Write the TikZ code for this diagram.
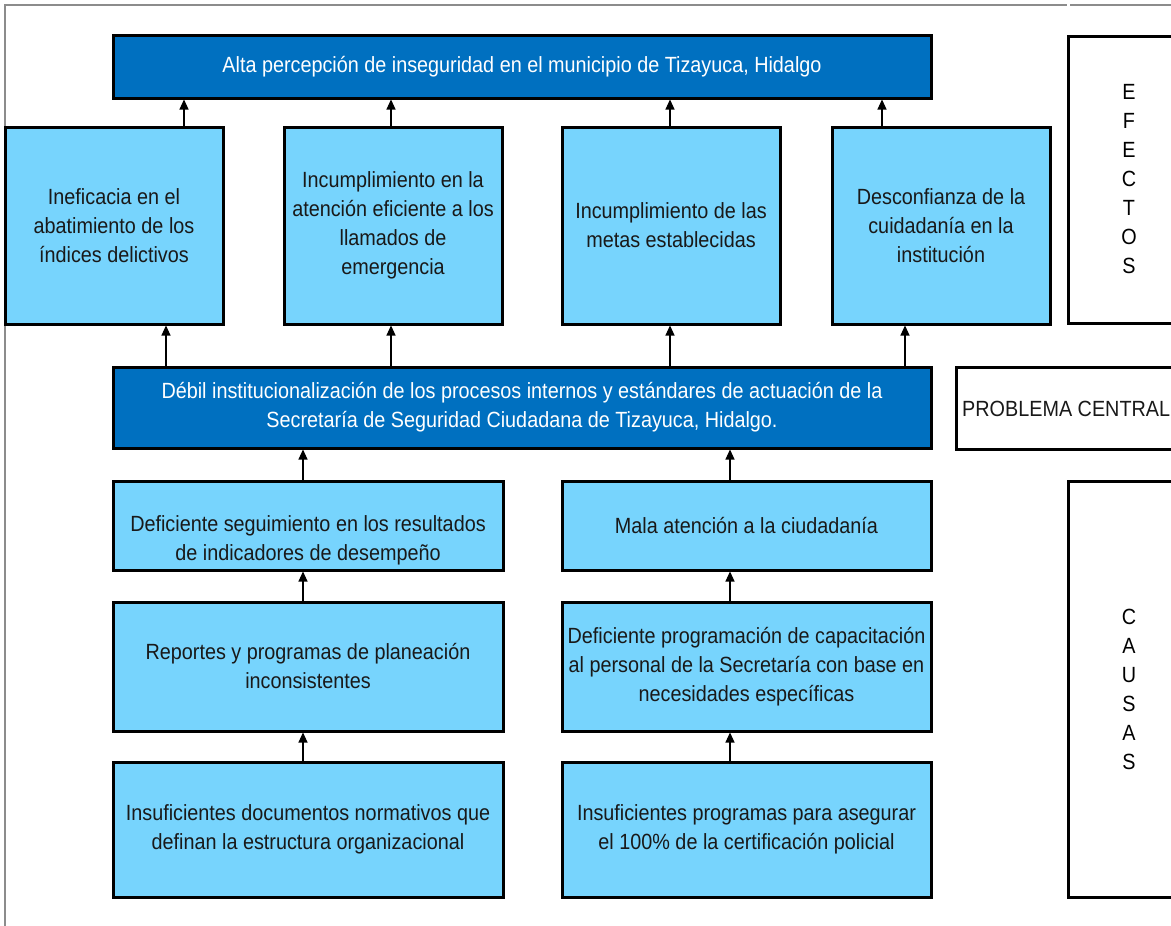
\documentclass[tikz,border=0pt]{standalone}
\usepackage{fontspec}
\setmainfont{Liberation Sans}[FakeStretch=0.9]
\usetikzlibrary{arrows.meta}
\definecolor{lightbox}{HTML}{77D4FD}
\definecolor{darkbox}{HTML}{0070C0}
\definecolor{frame}{HTML}{8C8C8C}
\begin{document}
\begin{tikzpicture}[x=1pt,y=-1pt,
  base/.style={draw=black, line width=3pt, rectangle, inner sep=0pt, align=center,
    font=\fontsize{22}{29}\selectfont},
  lb/.style={base, fill=lightbox, text=black!90},
  db/.style={base, fill=darkbox, text=white},
  wb/.style={base, fill=white, text=black},
  txt/.style={align=center, inner sep=0pt, font=\fontsize{22}{29}\selectfont, text=black!90},
  arr/.style={line width=1.1pt, -{Triangle[length=10pt,width=9pt]}},
  frameline/.style={draw=frame, line width=1.2pt}
]
\useasboundingbox (0,0) rectangle (1171,926);
\fill[white] (0,0) rectangle (1171,926);
% outer frame
\coordinate (f1) at (5,926);
\coordinate (f2) at (5,5);
\coordinate (f3) at (1067,5);
\coordinate (f4) at (1070,5);
\coordinate (f5) at (1171,5);
\draw[frameline] (f1) -- (f2) -- (f3);
\draw[frameline] (f4) -- (f5);

% top effect
\node[db, minimum width=818pt, minimum height=63pt] (top) at (522,66.5)
  {Alta percepción de inseguridad en el municipio de Tizayuca, Hidalgo};

% effects
\node[lb, minimum width=218pt, minimum height=197pt] (e1) at (114,225.5)
  {Ineficacia en el\\abatimiento de los\\índices delictivos};
\node[lb, minimum width=218pt, minimum height=197pt] (e2) at (393,225.5)
  {Incumplimiento en la\\atención eficiente a los\\llamados de\\emergencia};
\node[lb, minimum width=218pt, minimum height=197pt] (e3) at (671,225.5)
  {Incumplimiento de las\\metas establecidas};
\node[lb, minimum width=218pt, minimum height=197pt] (e4) at (941,225.5)
  {Desconfianza de la\\cuidadanía en la\\institución};

% central problem
\node[db, minimum width=818pt, minimum height=81pt] (cen) at (522,407.5)
  {Débil institucionalización de los procesos internos y estándares de actuación de la\\Secretaría de Seguridad Ciudadana de Tizayuca, Hidalgo.};

% causes left
\node[lb, minimum width=390pt, minimum height=89pt] (la) at (308,525.5) {};
\node[txt] (lat) at (308,540)
  {Deficiente seguimiento en los resultados\\de indicadores de desempeño};
\node[lb, minimum width=390pt, minimum height=129pt] (lbx) at (308,666.5)
  {Reportes y programas de planeación\\inconsistentes};
\node[lb, minimum width=390pt, minimum height=135pt] (lc) at (308,829.5)
  {Insuficientes documentos normativos que\\definan la estructura organizacional};

% causes right
\node[lb, minimum width=369pt, minimum height=89pt] (ra) at (746.5,525.5)
  {Mala atención a la ciudadanía};
\node[lb, minimum width=369pt, minimum height=129pt] (rb) at (746.5,666.5)
  {Deficiente programación de capacitación\\al personal de la Secretaría con base en\\necesidades específicas};
\node[lb, minimum width=369pt, minimum height=135pt] (rc) at (746.5,829.5)
  {Insuficientes programas para asegurar\\el 100\% de la certificación policial};

% side labels
\node[wb, minimum width=122pt, minimum height=287pt] (ef) at (1129,179.5)
  {E\\F\\E\\C\\T\\O\\S};
\node[wb, minimum width=235pt, minimum height=82pt, anchor=west] (pc) at (955,408) {};
\node[txt, anchor=west] (pct) at (962,409) {PROBLEMA CENTRAL};
\node[wb, minimum width=122pt, minimum height=416pt] (ca) at (1129,689)
  {C\\A\\U\\S\\A\\S};

% arrows effects -> top
\draw[arr] (e1.north -| 184,0) -- (top.south -| 184,0);
\draw[arr] (e2.north -| 391,0) -- (top.south -| 391,0);
\draw[arr] (e3.north -| 670,0) -- (top.south -| 670,0);
\draw[arr] (e4.north -| 882,0) -- (top.south -| 882,0);

% arrows central -> effects
\draw[arr] (cen.north -| 166,0) -- (e1.south -| 166,0);
\draw[arr] (cen.north -| 391,0) -- (e2.south -| 391,0);
\draw[arr] (cen.north -| 670,0) -- (e3.south -| 670,0);
\draw[arr] (cen.north -| 905,0) -- (e4.south -| 905,0);

% arrows causes
\draw[arr] (la.north -| 303,0) -- (cen.south -| 303,0);
\draw[arr] (lbx.north -| 303,0) -- (la.south -| 303,0);
\draw[arr] (lc.north -| 303,0) -- (lbx.south -| 303,0);
\draw[arr] (ra.north -| 730,0) -- (cen.south -| 730,0);
\draw[arr] (rb.north -| 730,0) -- (ra.south -| 730,0);
\draw[arr] (rc.north -| 730,0) -- (rb.south -| 730,0);
\end{tikzpicture}
\end{document}
